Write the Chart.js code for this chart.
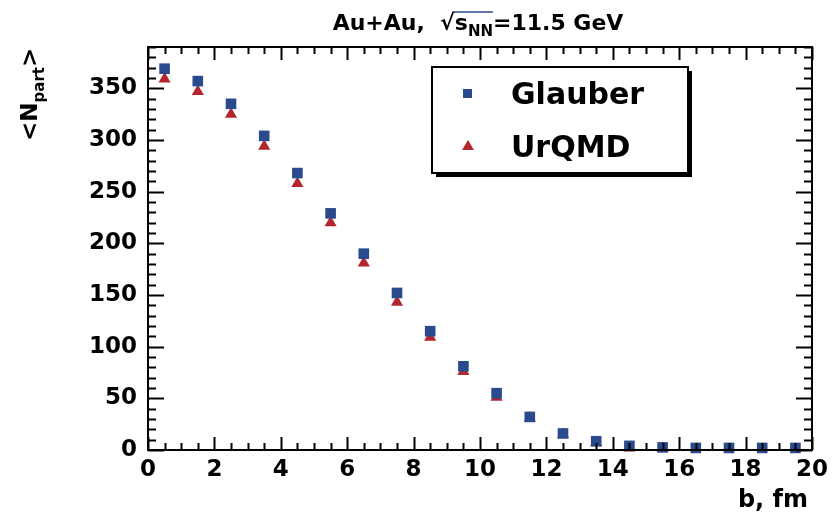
<!DOCTYPE html>
<html>
<head>
<meta charset="utf-8">
<script src="https://cdn.jsdelivr.net/npm/chart.js@4"></script>
<style>
  html, body { margin: 0; padding: 0; background: #fff; }
  #wrap { width: 836px; height: 518px; }
</style>
</head>
<body>
<div id="wrap"><canvas id="nPartChart" width="836" height="518"></canvas></div>
<script>
// impact parameter bins, fm
const bGlauber = [0.5, 1.5, 2.5, 3.5, 4.5, 5.5, 6.5, 7.5, 8.5, 9.5, 10.5, 11.5, 12.5, 13.5, 14.5, 15.5, 16.5, 17.5, 18.5, 19.5];
const bUrqmd = [0.5, 1.5, 2.5, 3.5, 4.5, 5.5, 6.5, 7.5, 8.5, 9.5, 10.5, 11.5, 12.5, 13.5, 14.5, 15.5];

// <Npart> values
const glauber = [369, 357, 335, 304, 268, 229, 190, 152, 115, 81, 55, 32, 16, 8.5, 4, 2.5, 2, 2, 2, 2];
const urqmd = [359, 347, 325, 294, 258, 220, 181, 143, 109, 76, 51, 31, 15, 7, 2, 1.5];

const xTicks = [0, 2, 4, 6, 8, 10, 12, 14, 16, 18, 20];
const yTicks = [0, 50, 100, 150, 200, 250, 300, 350];

const FONT = '"DejaVu Sans", sans-serif';
const blue = '#2a4a8e';
const red = '#b3262e';

function toPoints(xs, ys) {
    return xs.map((b, i) => ({ x: b, y: ys[i] }));
}

// ROOT style frame with inward ticks on all four sides
const framePlugin = {
    id: 'frame',
    afterDraw(chart) {
        const { ctx, chartArea: a, scales: { x, y } } = chart;
        ctx.save();
        ctx.strokeStyle = '#000';
        ctx.lineWidth = 2;
        ctx.beginPath();
        for (let i = 0; i <= 40; i++) {
            const px = Math.round(x.getPixelForValue(i / 2)) + 0.5;
            const len = i % 4 === 0 ? 13 : 7;
            ctx.moveTo(px, a.bottom);
            ctx.lineTo(px, a.bottom - len);
            ctx.moveTo(px, a.top);
            ctx.lineTo(px, a.top + len);
        }
        for (let v = 0; v <= 390; v += 10) {
            const py = Math.round(y.getPixelForValue(v)) + 0.5;
            const len = v % 50 === 0 ? 16 : 8;
            ctx.moveTo(a.left, py);
            ctx.lineTo(a.left + len, py);
            ctx.moveTo(a.right, py);
            ctx.lineTo(a.right - len, py);
        }
        ctx.stroke();
        ctx.strokeRect(a.left, a.top, a.width, a.height);
        ctx.restore();
    }
};

// titles, axis names and the boxed legend
const textPlugin = {
    id: 'texts',
    afterDraw(chart) {
        const { ctx, chartArea: a } = chart;
        ctx.save();
        ctx.fillStyle = '#000';
        ctx.textBaseline = 'alphabetic';

        // title: Au+Au, sqrt(s_NN)=11.5 GeV
        const big = 'bold 22px ' + FONT;
        const sub = 'bold 15px ' + FONT;
        const parts = [
            { t: 'Au+Au,  ', f: big, dy: 0 },
            { t: '\u221A', f: big, dy: 0 },
            { t: 's', f: big, dy: 0 },
            { t: 'NN', f: sub, dy: 6 },
            { t: '=11.5 GeV', f: big, dy: 0 }
        ];
        let w = 0;
        parts.forEach(p => { ctx.font = p.f; p.w = ctx.measureText(p.t).width; w += p.w; });
        let tx = 478 - w / 2;
        const ty = 30;
        let ovStart = 0, ovEnd = 0;
        parts.forEach((p, i) => {
            ctx.font = p.f;
            ctx.fillText(p.t, tx, ty + p.dy);
            if (i === 2) ovStart = tx;
            if (i === 3) ovEnd = tx + p.w;
            tx += p.w;
        });
        ctx.lineWidth = 1.3;
        ctx.beginPath();
        ctx.moveTo(ovStart - 1, ty - 18);
        ctx.lineTo(ovEnd, ty - 18);
        ctx.stroke();

        // x axis name
        ctx.font = 'bold 24px ' + FONT;
        ctx.textAlign = 'right';
        ctx.fillText('b, fm', a.right - 4, 507);

        // y axis name <N_part>
        ctx.save();
        ctx.translate(37, 141);
        ctx.rotate(-Math.PI / 2);
        ctx.textAlign = 'left';
        ctx.font = 'bold 23px ' + FONT;
        let yx = 0;
        ctx.fillText('<N', yx, 0);
        yx += ctx.measureText('<N').width;
        ctx.font = 'bold 15px ' + FONT;
        ctx.fillText('part', yx, 7);
        yx += ctx.measureText('part').width;
        ctx.font = 'bold 23px ' + FONT;
        ctx.fillText('>', yx, 0);
        ctx.restore();

        // legend box with shadow
        const lx = 432, ly = 67, lw = 256, lh = 106;
        ctx.fillStyle = '#000';
        ctx.fillRect(lx + 4, ly + lh, lw, 4);
        ctx.fillRect(lx + lw, ly + 4, 4, lh);
        ctx.fillStyle = '#fff';
        ctx.fillRect(lx, ly, lw, lh);
        ctx.strokeStyle = '#000';
        ctx.lineWidth = 2;
        ctx.strokeRect(lx, ly, lw, lh);

        const rows = [93, 146];
        chart.data.datasets.forEach((ds, i) => {
            const cy = rows[i];
            ctx.fillStyle = ds.backgroundColor;
            ctx.beginPath();
            if (ds.pointStyle === 'rect') {
                ctx.rect(463, cy - 4, 9, 9);
            } else {
                ctx.moveTo(468, cy - 6);
                ctx.lineTo(474, cy + 4);
                ctx.lineTo(462, cy + 4);
                ctx.closePath();
            }
            ctx.fill();
            ctx.fillStyle = '#000';
            ctx.textAlign = 'left';
            ctx.font = 'bold 30px ' + FONT;
            ctx.fillText(ds.label, 511, cy + 11);
        });
        ctx.restore();
    }
};

const ctx = document.getElementById('nPartChart').getContext('2d');

const chart = new Chart(ctx, {
    type: 'scatter',
    data: {
        datasets: [{
            label: 'Glauber',
            data: toPoints(bGlauber, glauber),
            pointStyle: 'rect',
            pointRadius: 7.5,
            backgroundColor: blue,
            borderColor: blue,
            borderWidth: 0,
            clip: false,
        }, {
            label: 'UrQMD',
            data: toPoints(bUrqmd, urqmd),
            pointStyle: 'triangle',
            pointRadius: 7,
            backgroundColor: red,
            borderColor: red,
            borderWidth: 0,
            clip: false,
        }],
    },
    options: {
        responsive: false,
        animation: false,
        layout: { padding: { top: 47, right: 24, left: 0, bottom: 0 } },
        plugins: {
            legend: { display: false },
            tooltip: { enabled: false },
        },
        scales: {
            x: {
                type: 'linear',
                min: 0,
                max: 20,
                grid: { display: false },
                border: { display: false },
                afterFit(scale) { scale.height = 68; },
                afterBuildTicks(scale) { scale.ticks = xTicks.map(v => ({ value: v })); },
                ticks: {
                    padding: -2,
                    color: '#000',
                    maxRotation: 0,
                    font: { family: FONT, size: 23, weight: 'bold' },
                },
            },
            y: {
                type: 'linear',
                min: 0,
                max: 390,
                grid: { display: false },
                border: { display: false },
                afterFit(scale) { scale.width = 148; },
                afterBuildTicks(scale) { scale.ticks = yTicks.map(v => ({ value: v })); },
                ticks: {
                    padding: 3,
                    color: '#000',
                    font: { family: FONT, size: 23, weight: 'bold' },
                },
            },
        },
    },
    plugins: [framePlugin, textPlugin],
});
</script>
</body>
</html>
